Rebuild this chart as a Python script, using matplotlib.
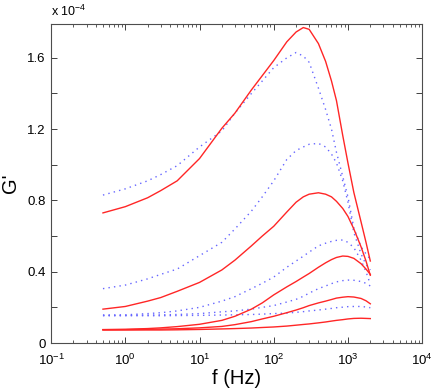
import numpy as np
import matplotlib.pyplot as plt
from matplotlib.ticker import MultipleLocator, LogLocator, NullFormatter

plt.rcParams['font.family'] = ['Liberation Sans', 'DejaVu Sans']
plt.rcParams['mathtext.default'] = 'regular'

# =============================================================================
# data (G' in units of 1e-4)
# =============================================================================
freq = [0.5, 1, 2, 3, 5, 10, 20, 30, 50, 70, 100, 150, 200, 250, 300, 400, 500, 600, 700,
        850, 1000, 1200, 1500, 1750, 2000]

red_1 = [0.73, 0.765, 0.815, 0.855, 0.91, 1.035, 1.205, 1.29, 1.42, 1.50, 1.585, 1.69, 1.745,
         1.77, 1.76, 1.68, 1.58, 1.47, 1.36, 1.165, 1.01, 0.845, 0.68, 0.565, 0.46]
red_2 = [0.19, 0.205, 0.235, 0.255, 0.29, 0.34, 0.41, 0.465, 0.545, 0.60, 0.655, 0.735, 0.79,
         0.82, 0.835, 0.843, 0.835, 0.82, 0.795, 0.755, 0.71, 0.64, 0.54, 0.46, 0.38]
red_3 = [0.075, 0.077, 0.081, 0.085, 0.092, 0.105, 0.127, 0.15, 0.19, 0.225, 0.27, 0.315, 0.345,
         0.37, 0.39, 0.425, 0.45, 0.468, 0.48, 0.488, 0.486, 0.475, 0.445, 0.415, 0.385]
red_4 = [0.075, 0.075, 0.077, 0.078, 0.08, 0.085, 0.093, 0.103, 0.12, 0.135, 0.15, 0.17, 0.185,
         0.198, 0.21, 0.225, 0.235, 0.244, 0.252, 0.257, 0.26, 0.258, 0.25, 0.237, 0.22]
red_5 = [0.073, 0.073, 0.073, 0.073, 0.074, 0.076, 0.079, 0.081, 0.084, 0.087, 0.09, 0.095, 0.10,
         0.104, 0.107, 0.113, 0.118, 0.123, 0.127, 0.131, 0.135, 0.138, 0.139, 0.138, 0.137]

blue_1 = [0.83, 0.865, 0.91, 0.945, 0.995, 1.10, 1.19, 1.29, 1.40, 1.47, 1.545, 1.60, 1.63,
          1.61, 1.575, 1.43, 1.31, 1.20, 1.07, 0.935, 0.82, 0.645, 0.54, 0.50, 0.47]
blue_2 = [0.305, 0.325, 0.36, 0.385, 0.415, 0.49, 0.565, 0.64, 0.74, 0.82, 0.91, 1.03, 1.08,
          1.10, 1.115, 1.12, 1.10, 1.06, 1.01, 0.91, 0.79, 0.62, 0.50, 0.44, 0.41]
blue_3 = [0.157, 0.158, 0.165, 0.17, 0.18, 0.20, 0.235, 0.26, 0.305, 0.335, 0.37, 0.425, 0.46,
          0.487, 0.51, 0.545, 0.56, 0.57, 0.576, 0.578, 0.565, 0.535, 0.465, 0.40, 0.33]
blue_4 = [0.155, 0.155, 0.157, 0.158, 0.16, 0.165, 0.175, 0.18, 0.19, 0.20, 0.21, 0.23, 0.245,
          0.262, 0.28, 0.305, 0.32, 0.333, 0.343, 0.35, 0.353, 0.352, 0.345, 0.335, 0.32]
blue_5 = [0.153, 0.153, 0.153, 0.153, 0.154, 0.155, 0.157, 0.158, 0.16, 0.162, 0.165, 0.168, 0.172,
          0.176, 0.18, 0.185, 0.19, 0.194, 0.198, 0.201, 0.204, 0.205, 0.205, 0.202, 0.198]

reds = [red_1, red_2, red_3, red_4, red_5]
blues = [blue_1, blue_2, blue_3, blue_4, blue_5]

# =============================================================================
# plot
# =============================================================================
fig = plt.figure(figsize=(4.33, 3.90), dpi=100)
ax = fig.add_axes([0.118, 0.1205, 0.857, 0.818])

for b in blues:
    ax.plot(freq, b, linestyle=(0, (1, 3)), color=(0.4, 0.4, 1.0), lw=1.0)
for r in reds:
    ax.plot(freq, r, '-', color=(1.0, 0.15, 0.15), lw=1.0)

ax.set_xscale('log')
ax.set_xlim(0.1, 1e4)
ax.set_ylim(0, 1.79)

ax.set_yticks([0, 0.4, 0.8, 1.2, 1.6])
ax.set_yticklabels(['0', '0.4', '0.8', '1.2', '1.6'])
ax.yaxis.set_minor_locator(MultipleLocator(0.2))
ax.xaxis.set_major_locator(LogLocator(base=10, numticks=10))
ax.xaxis.set_minor_locator(LogLocator(base=10, subs=np.arange(2, 10), numticks=20))
ax.xaxis.set_minor_formatter(NullFormatter())

ax.tick_params(which='both', direction='in', top=True, right=True, labelsize=9.5,
               color='0.25')
ax.tick_params(which='major', length=4, width=0.7)
ax.tick_params(axis='x', which='major', pad=7)
ax.tick_params(axis='y', which='major', pad=4)
ax.tick_params(axis='x', which='minor', length=2, width=0.6)
ax.tick_params(axis='y', which='minor', length=4, width=0.7)
for s in ax.spines.values():
    s.set_color('0.3')
    s.set_linewidth(0.8)

ax.set_xlabel('f (Hz)', fontsize=14.5, labelpad=1)
ax.set_ylabel("G'", fontsize=14.5)
ax.yaxis.set_label_coords(-0.083, 0.5)
ax.text(0.0, 1.015, r'x 10$^{-4}$', transform=ax.transAxes, fontsize=9, ha='left', va='bottom')

fig.savefig('out.png', dpi=100)
